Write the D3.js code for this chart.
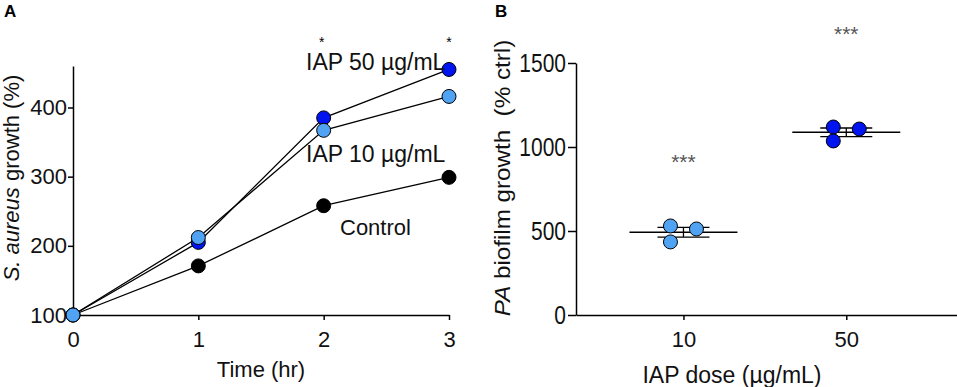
<!DOCTYPE html>
<html>
<head>
<meta charset="utf-8">
<script src="https://cdn.jsdelivr.net/npm/d3@7"></script>
<style>
  html, body { margin: 0; padding: 0; background: #fff; }
  svg { display: block; font-family: "Liberation Sans", Arial, sans-serif; }
</style>
</head>
<body>
<svg id="chart" width="957" height="387"></svg>
<script>
// ---------- Panel A data ----------
const timePoints = [0, 1, 2, 3];
const timeTicks = [0, 1, 2, 3];
const growthTicks = [100, 200, 300, 400];
const controlGrowth = [100, 171, 258, 299];
const iap50Growth = [100, 205, 385, 455];
const iap10Growth = [100, 212, 367, 416];
const seriesNames = ["Control", "IAP 50 µg/mL", "IAP 10 µg/mL"];
const sigTimesA = [2, 3];
const sigLabelA = "*";

// ---------- Panel B data ----------
const doseCategories = ["10", "50"];
const biofilmTicks = [0, 500, 1000, 1500];
const dose10Values = [530, 435, 512];
const dose50Values = [1119, 1036, 1107];
const sigLabelB = ["***", "***"];
const sigValueB = [870, 1630];

const svg = d3.select("#chart");
const colors = { "Control": "#000000", "IAP 50 µg/mL": "#0014f0", "IAP 10 µg/mL": "#4fa3f2" };

// ================= Panel A =================
const xA = d3.scaleLinear().domain([0, 3]).range([73, 449]);
const yA = d3.scaleLinear().domain([100, 460]).range([315, 66]);
const gA = svg.append("g");

gA.append("text").attr("x", 4).attr("y", 17).attr("font-size", 17).attr("font-weight", "bold").text("A");

const axAx = gA.append("g").attr("transform", `translate(0,${yA(100)})`)
  .call(d3.axisBottom(xA).tickValues(timeTicks).tickFormat(d3.format("d")).tickSize(5).tickPadding(11).tickSizeOuter(0));
const ayA = gA.append("g").attr("transform", `translate(${xA(0)},0)`)
  .call(d3.axisLeft(yA).tickValues(growthTicks).tickFormat(d3.format("d")).tickSize(5).tickPadding(1).tickSizeOuter(0));
[axAx, ayA].forEach(a => {
  a.select(".domain").attr("stroke", "#000").attr("stroke-width", 1.5);
  a.selectAll(".tick line").attr("stroke", "#000").attr("stroke-width", 1.5);
  a.selectAll(".tick text").attr("font-size", 22).attr("fill", "#111").attr("font-family", "'Liberation Sans', Arial, sans-serif");
});

gA.append("text").attr("x", 261).attr("y", 377).attr("text-anchor", "middle").attr("font-size", 22).attr("fill", "#111").text("Time (hr)");

const ylabA = gA.append("text").attr("transform", "translate(19,178) rotate(-90)")
  .attr("text-anchor", "middle").attr("font-size", 22).attr("fill", "#111");
ylabA.append("tspan").attr("font-style", "italic").text("S. aureus");
ylabA.append("tspan").text(" growth (%)");

const seriesData = [controlGrowth, iap50Growth, iap10Growth];
const line = d3.line().x((d, i) => xA(timePoints[i])).y(d => yA(d));
seriesData.forEach(vals => {
  gA.append("path").datum(vals).attr("d", line).attr("fill", "none")
    .attr("stroke", "#000").attr("stroke-width", 1.3);
});
seriesData.forEach((vals, si) => {
  gA.selectAll(null).data(vals).enter().append("circle")
    .attr("cx", (d, i) => xA(timePoints[i])).attr("cy", d => yA(d)).attr("r", 7)
    .attr("fill", colors[seriesNames[si]]).attr("stroke", "#000").attr("stroke-width", 1);
});

const lblStyle = (t, fs) => t.attr("font-size", fs).attr("fill", "#111");
lblStyle(gA.append("text").attr("x", 306).attr("y", 70).text(seriesNames[1]), 23);
lblStyle(gA.append("text").attr("x", 306).attr("y", 162).text(seriesNames[2]), 23);
lblStyle(gA.append("text").attr("x", 340).attr("y", 235).text(seriesNames[0]), 22);

gA.selectAll(null).data(sigTimesA).enter().append("text")
  .attr("x", d => xA(d) - (d === 2 ? 2 : 0)).attr("y", 47).attr("text-anchor", "middle")
  .attr("font-size", 14).attr("fill", "#000").text(sigLabelA);

// ================= Panel B =================
const xB = d3.scaleLinear().domain([-0.66, 1.68]).range([576, 957]);
const yB = d3.scaleLinear().domain([0, 1500]).range([315, 63]);
const gB = svg.append("g");

gB.append("text").attr("x", 495).attr("y", 17).attr("font-size", 17).attr("font-weight", "bold").text("B");

const axB = gB.append("g").attr("transform", `translate(0,${yB(0)})`)
  .call(d3.axisBottom(xB).tickValues([0, 1]).tickFormat(i => doseCategories[i]).tickSize(5).tickPadding(11).tickSizeOuter(0));
const ayB = gB.append("g").attr("transform", `translate(${xB(-0.66)},0)`)
  .call(d3.axisLeft(yB).tickValues(biofilmTicks).tickFormat(d3.format("d")).tickSize(8).tickPadding(2).tickSizeOuter(0));
[axB, ayB].forEach(a => {
  a.select(".domain").attr("stroke", "#000").attr("stroke-width", 1.5);
  a.selectAll(".tick line").attr("stroke", "#000").attr("stroke-width", 1.5);
  a.selectAll(".tick text").attr("font-size", 22).attr("fill", "#111").attr("font-family", "'Liberation Sans', Arial, sans-serif");
});
ayB.selectAll(".tick text").attr("font-size", 21).attr("transform", "scale(1,1.2)");

gB.append("text").attr("x", 732).attr("y", 383).attr("text-anchor", "middle").attr("font-size", 23).attr("fill", "#111").text("IAP dose (µg/mL)");

const ylabB = gB.append("text").attr("transform", "translate(510,178) rotate(-90) scale(1.1,1)")
  .attr("text-anchor", "middle").attr("font-size", 22).attr("fill", "#111").attr("xml:space", "preserve").style("white-space", "pre");
ylabB.append("tspan").attr("font-style", "italic").text("PA");
ylabB.append("tspan").text(" biofilm growth  (% ctrl)");

const groups = [dose10Values, dose50Values];
const groupColors = [colors["IAP 10 µg/mL"], colors["IAP 50 µg/mL"]];
const jitter = [-13, -13, 13];
groups.forEach((vals, gi) => {
  const cx = xB(gi);
  const mean = d3.mean(vals);
  const sem = d3.deviation(vals) / Math.sqrt(vals.length);
  gB.append("line").attr("x1", cx - 54).attr("x2", cx + 54).attr("y1", yB(mean)).attr("y2", yB(mean))
    .attr("stroke", "#000").attr("stroke-width", 1.5);
  gB.append("line").attr("x1", cx).attr("x2", cx).attr("y1", yB(mean + sem)).attr("y2", yB(mean - sem))
    .attr("stroke", "#000").attr("stroke-width", 1.3);
  [mean + sem, mean - sem].forEach(v => {
    gB.append("line").attr("x1", cx - 26).attr("x2", cx + 26).attr("y1", yB(v)).attr("y2", yB(v))
      .attr("stroke", "#000").attr("stroke-width", 1.3);
  });
  gB.selectAll(null).data(vals).enter().append("circle")
    .attr("cx", (d, i) => cx + jitter[i]).attr("cy", d => yB(d)).attr("r", 7)
    .attr("fill", groupColors[gi]).attr("stroke", "#000").attr("stroke-width", 1);
  gB.append("text").attr("x", cx).attr("y", yB(sigValueB[gi])).attr("text-anchor", "middle")
    .attr("font-size", 21).attr("fill", "#555").text(sigLabelB[gi]);
});
</script>
</body>
</html>
